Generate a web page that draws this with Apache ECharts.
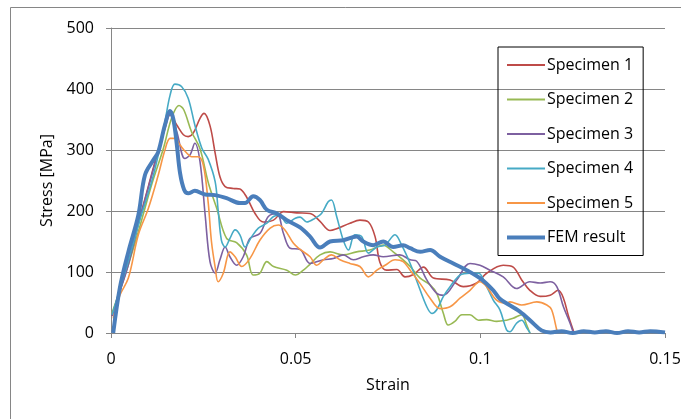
<!DOCTYPE html>
<html lang="en">
  <head>
    <meta charset="UTF-8" />
    <title>Stress-strain curves</title>
    <script src="https://cdn.jsdelivr.net/npm/echarts@6/dist/echarts.min.js"></script>
    <style>
      html, body { margin: 0; padding: 0; background: #fff; }
      #main { width: 691px; height: 419px; }
    </style>
  </head>
  <body>
    <div id="main"></div>

    <script>
      // [strain, stress MPa]
      const specimen1 = [
        [0.0003, 28], [0.0024, 70], [0.0047, 115], [0.0074, 180], [0.0101, 240], [0.0128, 300],
        [0.0146, 335], [0.016, 358], [0.0178, 341], [0.0196, 325], [0.0209, 322], [0.0223, 328],
        [0.0241, 352], [0.0252, 360], [0.0268, 340], [0.0282, 295], [0.0295, 256], [0.0309, 240],
        [0.0331, 237], [0.0349, 236], [0.0367, 223], [0.039, 196], [0.0412, 182], [0.044, 185],
        [0.0467, 199], [0.0503, 197], [0.0539, 196], [0.0566, 183], [0.0593, 168], [0.0611, 171],
        [0.0647, 180], [0.0674, 185], [0.0697, 182], [0.0715, 158], [0.0728, 116], [0.0746, 103],
        [0.0774, 104], [0.0796, 92], [0.0819, 96], [0.0846, 108], [0.0873, 90], [0.0918, 87],
        [0.0954, 76], [0.099, 82], [0.1017, 98], [0.1062, 111], [0.1089, 108], [0.1112, 87],
        [0.1134, 70], [0.1162, 60], [0.1189, 62], [0.1211, 70], [0.1225, 57], [0.1239, 27],
        [0.1254, 0]
      ];
      const specimen2 = [
        [0.0003, 33], [0.0038, 95], [0.0074, 166], [0.011, 243], [0.0142, 303], [0.0164, 352],
        [0.0184, 373], [0.0197, 366], [0.0218, 330], [0.0241, 302], [0.0264, 245], [0.0286, 205],
        [0.0313, 155], [0.034, 148], [0.0367, 128], [0.0385, 95], [0.0403, 98], [0.0422, 117],
        [0.044, 109], [0.0476, 103], [0.0499, 95], [0.0521, 103], [0.0539, 113], [0.0566, 128],
        [0.0593, 133], [0.0629, 128], [0.0665, 133], [0.0701, 136], [0.0737, 144], [0.0764, 133],
        [0.0791, 120], [0.081, 109], [0.0837, 90], [0.0864, 79], [0.0882, 65], [0.09, 32],
        [0.0913, 13], [0.0931, 19], [0.095, 30], [0.0972, 30], [0.0995, 21], [0.1017, 22],
        [0.1044, 19], [0.1071, 21], [0.1089, 24], [0.1112, 30], [0.1125, 14], [0.1134, 0]
      ];
      const specimen3 = [
        [0.0003, 28], [0.0024, 68], [0.0047, 112], [0.0074, 178], [0.0101, 238], [0.0128, 298],
        [0.0146, 338], [0.0158, 360], [0.0178, 330], [0.02, 286], [0.0214, 292], [0.0227, 311],
        [0.0241, 281], [0.0255, 193], [0.0268, 117], [0.0282, 98], [0.0295, 120], [0.0309, 141],
        [0.0322, 125], [0.034, 111], [0.0358, 125], [0.0376, 155], [0.0403, 163], [0.0426, 191],
        [0.0449, 196], [0.0467, 163], [0.0485, 139], [0.0512, 137], [0.0539, 114], [0.0575, 120],
        [0.0602, 122], [0.0629, 128], [0.0656, 120], [0.0683, 125], [0.071, 128], [0.0737, 125],
        [0.0782, 128], [0.081, 120], [0.0827, 118], [0.0855, 87], [0.0882, 65], [0.09, 62],
        [0.0936, 87], [0.0972, 114], [0.0999, 111], [0.1026, 103], [0.1062, 92], [0.1098, 73],
        [0.1134, 84], [0.1162, 82], [0.1189, 84], [0.1207, 76], [0.1225, 43], [0.1243, 16],
        [0.1252, 0]
      ];
      const specimen4 = [
        [0.0003, 30], [0.0024, 72], [0.0047, 118], [0.0074, 177], [0.011, 248], [0.0128, 292],
        [0.0146, 346], [0.016, 390], [0.0173, 408], [0.0191, 404], [0.0209, 385], [0.0227, 341],
        [0.0246, 303], [0.0263, 285], [0.0282, 248], [0.029, 202], [0.0299, 152], [0.0309, 141],
        [0.0322, 155], [0.0336, 169], [0.0349, 161], [0.0363, 141], [0.0381, 158], [0.0399, 172],
        [0.0422, 180], [0.044, 191], [0.0458, 193], [0.0476, 180], [0.0499, 188], [0.0512, 190],
        [0.053, 182], [0.0552, 188], [0.057, 196], [0.0588, 215], [0.0597, 218], [0.0611, 191],
        [0.0629, 152], [0.0643, 136], [0.066, 161], [0.0679, 158], [0.0697, 131], [0.072, 141],
        [0.0742, 144], [0.0769, 161], [0.0787, 144], [0.081, 114], [0.0827, 87], [0.0855, 43],
        [0.0869, 32], [0.0882, 38], [0.09, 60], [0.0918, 76], [0.0945, 95], [0.0972, 98],
        [0.0995, 98], [0.1017, 76], [0.1035, 54], [0.1053, 38], [0.1071, 5], [0.108, 2],
        [0.1098, 16], [0.1112, 21], [0.1126, 8], [0.1135, 0]
      ];
      const specimen5 = [
        [0.0006, 24], [0.0024, 62], [0.0047, 90], [0.0074, 161], [0.0101, 204], [0.0128, 259],
        [0.0146, 300], [0.016, 319], [0.0173, 319], [0.0187, 308], [0.0205, 295], [0.0218, 289],
        [0.0236, 289], [0.025, 275], [0.0263, 215], [0.0272, 150], [0.0282, 108], [0.029, 84],
        [0.0304, 98], [0.0322, 133], [0.0336, 125], [0.0354, 109], [0.0376, 122], [0.0403, 152],
        [0.0431, 172], [0.0453, 177], [0.0471, 169], [0.0494, 147], [0.0512, 137], [0.0539, 125],
        [0.0557, 111], [0.0575, 120], [0.0597, 128], [0.062, 120], [0.0647, 114], [0.0674, 109],
        [0.0697, 92], [0.072, 103], [0.0742, 111], [0.0769, 120], [0.0791, 117], [0.081, 103],
        [0.0837, 81], [0.0864, 57], [0.0891, 40], [0.0918, 43], [0.0945, 57], [0.0972, 70],
        [0.0999, 84], [0.1017, 76], [0.1044, 54], [0.1071, 49], [0.108, 51], [0.1112, 46],
        [0.1153, 51], [0.118, 46], [0.1193, 38], [0.1207, 5], [0.121, 0]
      ];
      const femResult = [
        [0.0006, 0], [0.0024, 74], [0.0047, 133], [0.0074, 193], [0.0092, 259], [0.0115, 284],
        [0.0128, 297], [0.0146, 341], [0.016, 364], [0.0169, 350], [0.0178, 310], [0.0187, 262],
        [0.0198, 235], [0.0209, 229], [0.0227, 233], [0.0255, 227], [0.0282, 226], [0.0313, 221],
        [0.0349, 213], [0.0363, 213], [0.0385, 224], [0.0403, 218], [0.0422, 202], [0.0449, 196],
        [0.0476, 185], [0.0512, 173], [0.0539, 158], [0.0566, 140], [0.0593, 150], [0.0629, 152],
        [0.0665, 158], [0.0683, 150], [0.071, 144], [0.0737, 150], [0.0764, 141], [0.0791, 144],
        [0.081, 139], [0.0837, 133], [0.0864, 136], [0.0891, 125], [0.0927, 114], [0.0963, 103],
        [0.0999, 90], [0.1035, 70], [0.1053, 56], [0.1107, 35], [0.1143, 16], [0.1166, 4],
        [0.119, 1], [0.122, 3], [0.125, 0], [0.128, 3], [0.131, 1], [0.134, 3], [0.137, 0],
        [0.14, 3], [0.143, 1], [0.146, 3], [0.15, 1]
      ];

      const seriesNames = ['Specimen 1', 'Specimen 2', 'Specimen 3', 'Specimen 4', 'Specimen 5', 'FEM result'];
      const seriesData = [specimen1, specimen2, specimen3, specimen4, specimen5, femResult];
      const colors = ['#BE4B48', '#98B954', '#7D60A0', '#46AAC5', '#F79646', '#4A7EBB'];

      const font = "'Open Sans', sans-serif";
      const gray = '#868686';

      // plain line swatches for the legend (no marker in the middle)
      const thinIcon = 'path://M0,0 L38,0 L38,2 L0,2 Z';
      const thickIcon = 'path://M0,0 L38,0 L38,4 L0,4 Z';

      const series = seriesNames.map(function (name, i) {
        const fem = name === 'FEM result';
        return {
          name: name,
          type: 'line',
          data: seriesData[i],
          showSymbol: false,
          symbol: 'none',
          smooth: 0.35,
          z: fem ? 5 : 2,
          lineStyle: { color: colors[i], width: fem ? 4 : 1.6 },
          itemStyle: { color: colors[i] }
        };
      });

      const myChart = echarts.init(document.getElementById('main'), null, { renderer: 'canvas' });

      myChart.setOption({
        animation: false,
        backgroundColor: '#fff',
        textStyle: { fontFamily: font },
        grid: { left: 111, right: 26, top: 28, bottom: 86 },
        legend: {
          orient: 'vertical',
          left: 498,
          top: 47,
          padding: [10, 10, 10, 9],
          itemGap: 18.5,
          itemWidth: 38,
          itemHeight: 14,
          symbolKeepAspect: true,
          borderColor: '#000',
          borderWidth: 1,
          textStyle: { fontFamily: font, fontSize: 16, color: '#000', padding: [0, 0, 0, -3] },
          data: seriesNames.map(function (name) {
            return {
              name: name,
              icon: name === 'FEM result' ? thickIcon : thinIcon
            };
          })
        },
        xAxis: {
          type: 'value',
          min: 0,
          max: 0.15,
          interval: 0.05,
          name: 'Strain',
          nameLocation: 'middle',
          nameGap: 44,
          nameTextStyle: { fontFamily: font, fontSize: 16, color: '#000' },
          axisLine: { lineStyle: { color: gray, width: 1 } },
          axisTick: { show: true, length: 5, lineStyle: { color: gray } },
          axisLabel: { fontFamily: font, fontSize: 16, color: '#000', margin: 18 },
          splitLine: { show: false }
        },
        yAxis: {
          type: 'value',
          min: 0,
          max: 500,
          interval: 100,
          name: 'Stress [MPa]',
          nameLocation: 'middle',
          nameGap: 54,
          nameTextStyle: { fontFamily: font, fontSize: 16, color: '#000' },
          axisLine: { show: true, lineStyle: { color: gray, width: 1 } },
          axisTick: { show: true, length: 5, lineStyle: { color: gray } },
          axisLabel: { fontFamily: font, fontSize: 16, color: '#000', margin: 17 },
          splitLine: { show: true, lineStyle: { color: gray, width: 1 } }
        },
        graphic: [
          {
            type: 'polyline',
            silent: true,
            shape: { points: [[10.5, 419], [10.5, 7.5], [681, 7.5]] },
            style: { stroke: gray, fill: null, lineWidth: 1 }
          }
        ],
        series: series
      });
    </script>
  </body>
</html>
